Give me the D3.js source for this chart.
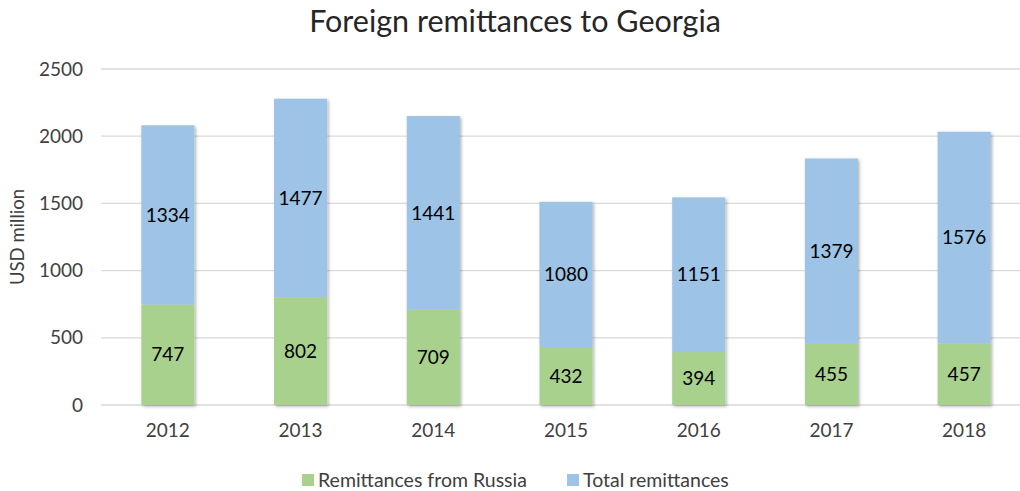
<!DOCTYPE html>
<html>
<head>
<meta charset="utf-8">
<script src="https://cdn.jsdelivr.net/npm/d3@7"></script>
<style>
html,body{margin:0;padding:0;background:#fff;}
svg{display:block;font-family:Lato,"Open Sans",sans-serif;}
</style>
</head>
<body>
<svg id="chart" width="1020" height="491"></svg>
<script>
const years = ["2012","2013","2014","2015","2016","2017","2018"];
const russia = [747, 802, 709, 432, 394, 455, 457];
const other = [1334, 1477, 1441, 1080, 1151, 1379, 1576];
const yTicks = [0, 500, 1000, 1500, 2000, 2500];
const seriesNames = ["Remittances from Russia", "Total remittances"];
const colors = ["#a9d18e", "#9dc3e6"];

const svg = d3.select("#chart");
const defs = svg.append("defs");
const f = defs.append("filter").attr("id","sh").attr("x","-20%").attr("y","-5%").attr("width","150%").attr("height","115%");
f.append("feDropShadow").attr("dx",1.5).attr("dy",1.5).attr("stdDeviation",1.5).attr("flood-color","#000").attr("flood-opacity",0.3);

const x = d3.scaleBand().domain(years).range([101.5, 1030.5]).paddingInner(0.6).paddingOuter(0.3);
const y = d3.scaleLinear().domain([0, 2500]).range([405, 69]);

// gridlines
svg.append("g").selectAll("line").data(yTicks).join("line")
  .attr("x1", 101).attr("x2", 1020)
  .attr("y1", d => y(d)).attr("y2", d => y(d))
  .attr("stroke", "#d9d9d9").attr("stroke-width", 1.3);

// y axis labels
const yAxis = d3.axisLeft(y).tickValues(yTicks).tickFormat(d3.format("d")).tickSize(0).tickPadding(0);
const ya = svg.append("g").attr("transform","translate(83,0)").call(yAxis);
ya.select(".domain").remove();
ya.selectAll("text").attr("font-size",19).attr("fill","#404040").attr("font-family","Lato,'Open Sans',sans-serif");

// x axis labels
const xAxis = d3.axisBottom(x).tickSize(0).tickPadding(0);
const xa = svg.append("g").attr("transform","translate(0,423)").call(xAxis);
xa.select(".domain").remove();
xa.selectAll("text").attr("font-size",19).attr("fill","#404040").attr("font-family","Lato,'Open Sans',sans-serif");

// stacked data
const data = years.map((yr,i) => ({year: yr, r: russia[i], o: other[i]}));
const stack = d3.stack().keys(["r","o"]);
const series = stack(data);

const bars = svg.append("g").attr("filter","url(#sh)");
series.forEach((s, si) => {
  bars.append("g").selectAll("rect").data(s).join("rect")
    .attr("x", d => x(d.data.year))
    .attr("width", x.bandwidth())
    .attr("y", d => y(d[1]))
    .attr("height", d => y(d[0]) - y(d[1]))
    .attr("fill", colors[si]);
});
series.forEach((s, si) => {
  svg.append("g").selectAll("text").data(s).join("text")
    .attr("x", d => x(d.data.year) + x.bandwidth()/2)
    .attr("y", d => (y(d[0]) + y(d[1]))/2)
    .attr("dy","0.35em")
    .attr("text-anchor","middle")
    .attr("font-size",19)
    .attr("fill","#000")
    .text(d => d[1]-d[0]);
});

// y axis title
svg.append("text")
  .attr("transform","translate(24,237) rotate(-90)")
  .attr("text-anchor","middle")
  .attr("font-size",18.5)
  .attr("fill","#404040")
  .text("USD million");

// title
svg.append("text")
  .attr("x", 515).attr("y", 32)
  .attr("text-anchor","middle")
  .attr("font-size",30.5)
  .attr("fill","#262626")
  .text("Foreign remittances to Georgia");

// legend
const legX = [302, 567];
const lg = svg.append("g");
seriesNames.forEach((n,i) => {
  lg.append("rect").attr("x", legX[i]).attr("y", 474).attr("width", 12).attr("height", 12).attr("fill", colors[i]);
  lg.append("text").attr("x", legX[i]+16).attr("y", 480).attr("dy","0.35em")
    .attr("font-size",19.5).attr("fill","#404040").text(n);
});
</script>
</body>
</html>
